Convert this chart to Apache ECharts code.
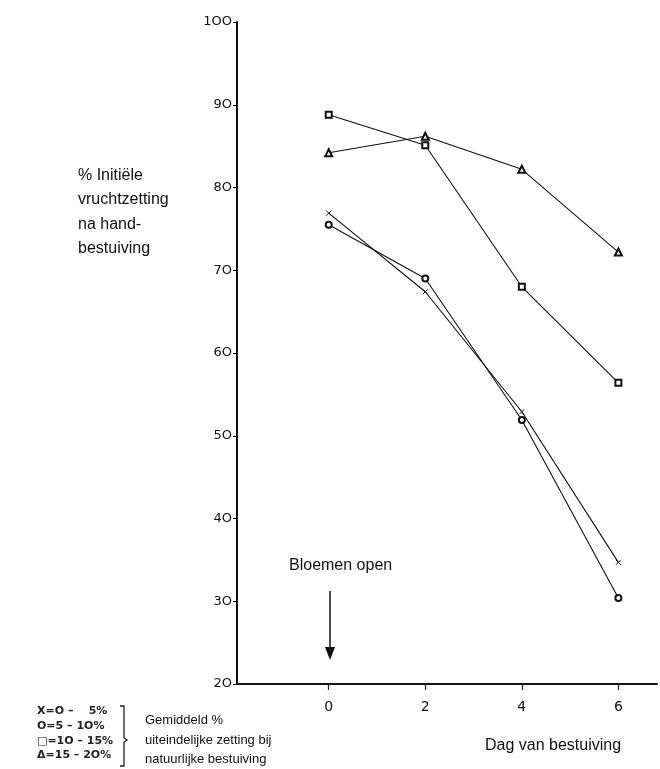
<!DOCTYPE html>
<html>
<head>
<meta charset="utf-8">
<script src="https://cdn.jsdelivr.net/npm/echarts@6/dist/echarts.min.js"></script>
<style>html,body{margin:0;padding:0;background:#fff;}#c{width:660px;height:769px;}</style>
</head>
<body>
<div id="c"></div>
<script>
var days = [0, 2, 4, 6];
var xTickLabels = ['0', '2', '4', '6'];
var yTicks = [20, 30, 40, 50, 60, 70, 80, 90, 100];
var set0to5 = [76.9, 67.4, 52.9, 34.7];      // X
var set5to10 = [75.5, 69.0, 51.9, 30.4];     // O
var set10to15 = [88.8, 85.1, 68.0, 56.4];    // square
var set15to20 = [84.2, 86.2, 82.2, 72.2];    // triangle
var legendLines = ['X=O \u2013    5%', 'O=5 \u2013 1O%', '\u25A1=1O \u2013 15%', '\u0394=15 \u2013 2O%'];

function pairs(arr) { return days.map(function (d, i) { return [d, arr[i]]; }); }

var chart = echarts.init(document.getElementById('c'), null, {renderer: 'canvas'});
var lineBase = {type: 'line', lineStyle: {color: '#111', width: 1.1}, z: 3,
  itemStyle: {color: '#111', borderColor: '#111', borderWidth: 1}, showAllSymbol: true};
var axisFont = '"DejaVu Sans", sans-serif';

chart.setOption({
  animation: false,
  backgroundColor: '#fff',
  grid: {left: 237, right: 3, top: 22, bottom: 85},
  xAxis: {
    type: 'value', min: -1.9, max: 6.8,
    axisLine: {onZero: false, lineStyle: {color: '#111', width: 2}},
    splitLine: {show: false},
    axisTick: {show: true, customValues: days, length: 6, lineStyle: {color: '#222', width: 1.2}},
    axisLabel: {customValues: days, formatter: function (v) { return xTickLabels[days.indexOf(v)]; },
      color: '#111', fontSize: 14, fontFamily: axisFont, margin: 16}
  },
  yAxis: {
    type: 'value', min: 20, max: 100, interval: 10,
    axisLine: {show: true, onZero: false, lineStyle: {color: '#111', width: 2}},
    splitLine: {show: false},
    axisTick: {show: true, length: 4, lineStyle: {color: '#111', width: 1}},
    axisLabel: {color: '#111', fontSize: 13, fontFamily: axisFont, margin: 5,
      formatter: function (v) { return String(v).replace(/0/g, 'O'); }}
  },
  series: [
    Object.assign({}, lineBase, {name: '0-5%', data: pairs(set0to5), symbol: 'path://M0,0L10,10M10,0L0,10', symbolSize: 5}),
    Object.assign({}, lineBase, {name: '5-10%', data: pairs(set5to10), symbol: 'emptyCircle', symbolSize: 6}),
    Object.assign({}, lineBase, {name: '10-15%', data: pairs(set10to15), symbol: 'emptyRect', symbolSize: 6}),
    Object.assign({}, lineBase, {name: '15-20%', data: pairs(set15to20), symbol: 'emptyTriangle', symbolSize: 7})
  ],
  graphic: [
    {type: 'text', left: 78, top: 163, style: {text: '% Initiële\nvruchtzetting\nna hand-\nbestuiving', font: '16px "Liberation Sans", Arial, sans-serif', fill: '#111', lineHeight: 24.5}},
    {type: 'text', left: 289, top: 558, style: {text: 'Bloemen open', font: '16px "Liberation Sans", Arial, sans-serif', fill: '#111'}},
    {type: 'line', shape: {x1: 330, y1: 591, x2: 330, y2: 648}, style: {stroke: '#111', lineWidth: 1.5}},
    {type: 'polygon', shape: {points: [[325, 647], [335, 647], [330, 660]]}, style: {fill: '#111'}},
    {type: 'text', left: 485, top: 738, style: {text: 'Dag van bestuiving', font: '16px "Liberation Sans", Arial, sans-serif', fill: '#111'}},
    {type: 'text', left: 37, top: 704, style: {text: legendLines.join('\n'), font: 'bold 11px "DejaVu Sans", sans-serif', fill: '#222', lineHeight: 14.7}},
    {type: 'polyline', shape: {points: [[120, 706], [124, 706], [124, 738], [127, 740], [124, 742], [124, 766], [120, 766]]}, style: {stroke: '#222', lineWidth: 1.3, fill: null}},
    {type: 'text', left: 145, top: 711, style: {text: 'Gemiddeld %\nuiteindelijke zetting bij\nnatuurlijke bestuiving', font: '13px "Liberation Sans", Arial, sans-serif', fill: '#111', lineHeight: 19.5}}
  ]
});
</script>
</body>
</html>
